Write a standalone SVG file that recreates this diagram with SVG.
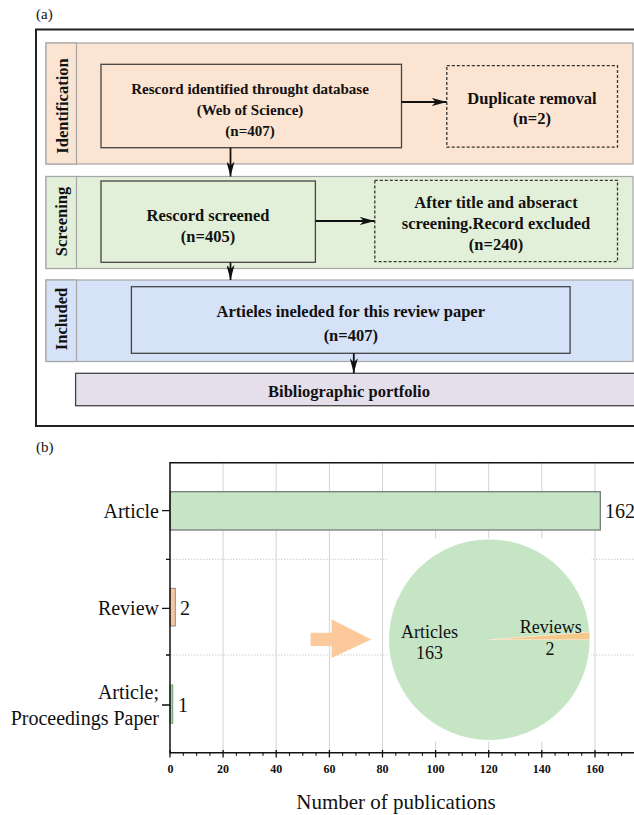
<svg xmlns="http://www.w3.org/2000/svg" width="634" height="815" viewBox="0 0 634 815">
<defs>
<marker id="ah" viewBox="0 0 15 8" refX="15" refY="4" markerWidth="15" markerHeight="8" markerUnits="userSpaceOnUse" orient="auto">
<path d="M0,0 L15,4 L0,8 L4,4 Z" fill="#111"/>
</marker>
<style>
.fl{font-family:"Liberation Serif","Times New Roman",serif;font-weight:bold;fill:#111;text-anchor:middle}
.rm{font-family:"Liberation Serif","Times New Roman",serif;fill:#111}
.band{stroke:#a6a6a6;stroke-width:1.2}
.box{stroke:#444;stroke-width:1.3}
.dash{stroke:#333;stroke-width:1.3;stroke-dasharray:3 2}
.conn{stroke:#111;stroke-width:1.8;fill:none;marker-end:url(#ah)}
.grid{stroke:#d3d3d3;stroke-width:1}
.hgrid{stroke:#cfcfcf;stroke-width:1;stroke-dasharray:1.5 1.5}
.ax{stroke:#111;stroke-width:1.5}
.tk{font-family:"Liberation Serif","Times New Roman",serif;font-weight:bold;font-size:12px;fill:#111;text-anchor:middle}
</style>
</defs>
<rect width="634" height="815" fill="#fff"/>

<!-- (a) flowchart -->
<text class="rm" x="36" y="19" font-size="15">(a)</text>
<rect x="36" y="29.5" width="600" height="396.5" fill="none" stroke="#222" stroke-width="2"/>

<g id="identification">
<rect class="band" x="46" y="43" width="587" height="121" fill="#fce4d2"/>
<rect class="band" x="46" y="43" width="30.5" height="121" fill="#fce4d2" stroke="#666"/>
<text class="fl" font-size="16.5" transform="translate(67.5,106) rotate(-90)">Identification</text>
</g>
<g id="screening-band">
<rect class="band" x="46" y="176.5" width="587" height="92" fill="#e2f0d9"/>
<rect class="band" x="46" y="176.5" width="30.5" height="92" fill="#e2f0d9" stroke="#666"/>
<text class="fl" font-size="16.5" transform="translate(66.5,221.5) rotate(-90)">Screening</text>
</g>
<g id="included-band">
<rect class="band" x="46" y="280" width="587" height="81.5" fill="#d6e2f7"/>
<rect class="band" x="46" y="280" width="30.5" height="81.5" fill="#d6e2f7" stroke="#666"/>
<text class="fl" font-size="16.5" transform="translate(66.5,319) rotate(-90)">Included</text>
</g>

<g id="records-identified">
<rect class="box" x="101" y="64.3" width="300.5" height="83.4" fill="#fce4d2"/>
<text class="fl" font-size="15" x="250" y="94.3">Rescord identified throught database</text>
<text class="fl" font-size="15" x="250" y="115">(Web of Science)</text>
<text class="fl" font-size="15" x="250" y="135.5">(n=407)</text>
</g>
<g id="duplicate-removal">
<rect class="dash" x="446.8" y="65.7" width="170.7" height="81.5" fill="#fce4d2"/>
<text class="fl" font-size="16.5" x="532" y="103.5">Duplicate removal</text>
<text class="fl" font-size="16.5" x="532" y="124">(n=2)</text>
</g>
<g id="records-screened">
<rect class="box" x="101" y="181" width="214.4" height="81.3" fill="#e2f0d9"/>
<text class="fl" font-size="16.5" x="208" y="220.5">Rescord screened</text>
<text class="fl" font-size="16.5" x="208" y="242.3">(n=405)</text>
</g>
<g id="records-excluded">
<rect class="dash" x="374.8" y="180.3" width="242.7" height="81.4" fill="#e2f0d9"/>
<text class="fl" font-size="16.5" x="496" y="208.3">After title and abseract</text>
<text class="fl" font-size="16.5" x="496" y="229">screening.Record excluded</text>
<text class="fl" font-size="16.5" x="496" y="250">(n=240)</text>
</g>
<g id="articles-included">
<rect class="box" x="131.4" y="286.7" width="438.7" height="66.6" fill="#d6e2f7"/>
<text class="fl" font-size="16.5" x="350.8" y="317.3">Artieles ineleded for this review paper</text>
<text class="fl" font-size="16.5" x="350.8" y="340.6">(n=407)</text>
</g>
<g id="bibliographic-portfolio">
<rect class="box" x="75.6" y="373.3" width="560" height="32.4" fill="#e5dfec"/>
<text class="fl" font-size="16.5" x="349" y="397.3">Bibliographic portfolio</text>
</g>

<g id="connectors">
<line class="conn" x1="401.5" y1="102" x2="446.8" y2="102"/>
<line class="conn" x1="230.5" y1="147.7" x2="230.5" y2="176.5"/>
<line class="conn" x1="315.4" y1="221" x2="374.8" y2="221"/>
<line class="conn" x1="230.5" y1="262.3" x2="230.5" y2="280"/>
<line class="conn" x1="353.8" y1="353.3" x2="353.8" y2="373.3"/>
</g>

<!-- (b) chart -->
<text class="rm" x="36" y="452" font-size="15">(b)</text>
<g id="chart">
<g id="gridlines">
<line class="grid" x1="223.1" y1="462.7" x2="223.1" y2="752.7"/>
<line class="grid" x1="276.2" y1="462.7" x2="276.2" y2="752.7"/>
<line class="grid" x1="329.4" y1="462.7" x2="329.4" y2="752.7"/>
<line class="grid" x1="382.5" y1="462.7" x2="382.5" y2="752.7"/>
<line class="grid" x1="435.6" y1="462.7" x2="435.6" y2="752.7"/>
<line class="grid" x1="488.7" y1="462.7" x2="488.7" y2="752.7"/>
<line class="grid" x1="541.8" y1="462.7" x2="541.8" y2="752.7"/>
<line class="grid" x1="595" y1="462.7" x2="595" y2="752.7"/>
<line class="hgrid" x1="170" y1="559.3" x2="634" y2="559.3"/>
<line class="hgrid" x1="170" y1="655" x2="634" y2="655"/>
</g>
<g id="bars">
<rect x="170" y="491.7" width="430.3" height="38.3" fill="#c5e5c5" stroke="#707070" stroke-width="1.2"/>
<rect x="170" y="588.3" width="5.3" height="37.7" fill="#f9c79a" stroke="#8a8a8a" stroke-width="1"/>
<rect x="170" y="685" width="2.7" height="38.3" fill="#a9d6a9" stroke="#6f9a6f" stroke-width="1"/>
<text class="rm" font-size="20" x="605" y="517.5">162</text>
<text class="rm" font-size="20" x="180" y="615">2</text>
<text class="rm" font-size="20" x="178" y="712">1</text>
</g>
<g id="axes">
<line class="ax" x1="170" y1="462.7" x2="634" y2="462.7" stroke-width="2"/>
<line class="ax" x1="170" y1="462" x2="170" y2="753.5"/>
<line class="ax" x1="170" y1="752.7" x2="634" y2="752.7"/>
<path d="M162,510.7H170M162,608.3H170M162,705H170M166,559.3H170M166,655H170" stroke="#111" stroke-width="1.3"/>
<path d="M170,750V757.5M223.1,750V757.5M276.2,750V757.5M329.4,750V757.5M382.5,750V757.5M435.6,750V757.5M488.7,750V757.5M541.8,750V757.5M595,750V757.5" stroke="#111" stroke-width="1.3"/>
<path d="M183.3,752.7v3M196.6,752.7v3M209.9,752.7v3M236.4,752.7v3M249.7,752.7v3M263,752.7v3M289.5,752.7v3M302.8,752.7v3M316.1,752.7v3M342.6,752.7v3M355.9,752.7v3M369.2,752.7v3M395.8,752.7v3M409.1,752.7v3M422.4,752.7v3M448.9,752.7v3M462.2,752.7v3M475.5,752.7v3M502,752.7v3M515.3,752.7v3M528.6,752.7v3M555.1,752.7v3M568.4,752.7v3M581.7,752.7v3M608.3,752.7v3M621.6,752.7v3" stroke="#111" stroke-width="1.1"/>
<text class="tk" x="170.5" y="773">0</text>
<text class="tk" x="223.1" y="773">20</text>
<text class="tk" x="276.2" y="773">40</text>
<text class="tk" x="329.4" y="773">60</text>
<text class="tk" x="382.5" y="773">80</text>
<text class="tk" x="435.6" y="773">100</text>
<text class="tk" x="488.7" y="773">120</text>
<text class="tk" x="541.8" y="773">140</text>
<text class="tk" x="595" y="773">160</text>
<text class="rm" font-size="20" x="159" y="517.5" text-anchor="end">Article</text>
<text class="rm" font-size="20" x="159" y="615" text-anchor="end">Review</text>
<text class="rm" font-size="20" x="159" y="698.5" text-anchor="end">Article;</text>
<text class="rm" font-size="20" x="159" y="725" text-anchor="end">Proceedings Paper</text>
<text class="rm" font-size="21" x="396" y="808.5" text-anchor="middle">Number of publications</text>
</g>
<g id="pie-inset">
<rect x="387.4" y="538.3" width="203.6" height="203.4" fill="#fff"/>
<circle cx="489.3" cy="639.7" r="100.3" fill="#c5e5c5"/>
<path d="M489.3,639.7 L589.6,639.7 A100.3,100.3 0 0 0 589.3,632.1 Z" fill="#f3c98b" stroke="#fbead0" stroke-width="0.8"/>
<text class="rm" font-size="18" x="429.4" y="637.7" text-anchor="middle">Articles</text>
<text class="rm" font-size="18" x="429.4" y="659.3" text-anchor="middle">163</text>
<text class="rm" font-size="18" x="550.7" y="632.7" text-anchor="middle">Reviews</text>
<text class="rm" font-size="18" x="550" y="655.3" text-anchor="middle">2</text>
</g>
<g id="orange-arrow">
<polygon points="310.6,632.7 331.6,632.7 331.6,619.3 371.2,639.4 331.6,658 331.6,646 310.6,646" fill="#fbc99b"/>
</g>
</g>
</svg>
